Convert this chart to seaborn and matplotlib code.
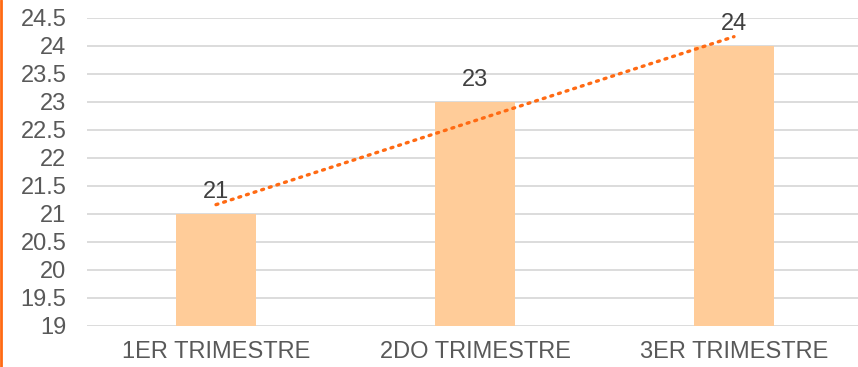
import numpy as np
import pandas as pd
import matplotlib
matplotlib.use("Agg")
import matplotlib.pyplot as plt
import seaborn as sns
from matplotlib.lines import Line2D

categories = ["1ER TRIMESTRE", "2DO TRIMESTRE", "3ER TRIMESTRE"]
values = [21, 23, 24]
y_ticks = [19, 19.5, 20, 20.5, 21, 21.5, 22, 22.5, 23, 23.5, 24, 24.5]
y_tick_labels = ["19", "19.5", "20", "20.5", "21", "21.5", "22", "22.5", "23", "23.5", "24", "24.5"]

sns.set_theme(style="white")
plt.rcParams["font.family"] = ["Liberation Sans", "DejaVu Sans"]

df = pd.DataFrame({"trimestre": categories, "valor": values})

fig = plt.figure(figsize=(8.58, 3.67), dpi=100)
ax = fig.add_axes([86.5 / 858, 41 / 367, 777 / 858, 308 / 367])

sns.barplot(data=df, x="trimestre", y="valor", order=categories,
            color="#FFCC99", saturation=1, width=0.31, linewidth=0,
            ax=ax, zorder=2)

# linear trend line across the three quarters
xs = np.arange(len(values))
slope, intercept = np.polyfit(xs, values, 1)
trend = slope * xs + intercept
ax.plot(xs, trend, color="#FF6A13", linewidth=2.4,
        linestyle=(0, (0.6, 1.8)), dash_capstyle="round", zorder=4)

ax.set_ylim(19, 24.5)
ax.set_xlim(-0.5, 2.5)
ax.set_yticks(y_ticks)
ax.set_yticklabels(y_tick_labels)
ax.yaxis.grid(True, color="#D9D9D9", linewidth=1.3)
ax.set_axisbelow(True)
for s in ax.spines.values():
    s.set_visible(False)
ax.tick_params(axis="y", length=0, pad=14.5, labelsize=17, labelcolor="#595959")
ax.tick_params(axis="x", length=0, pad=11, labelsize=17, labelcolor="#595959")
ax.set_xlabel("")
ax.set_ylabel("")

ax.bar_label(ax.containers[0], labels=[str(v) for v in values],
             padding=8, fontsize=17, color="#404040")

fig.add_artist(Line2D([1.2 / 858, 1.2 / 858], [0, 1], color="#FF6A13",
                      linewidth=2.0, transform=fig.transFigure))

fig.savefig("out.png", dpi=100)
